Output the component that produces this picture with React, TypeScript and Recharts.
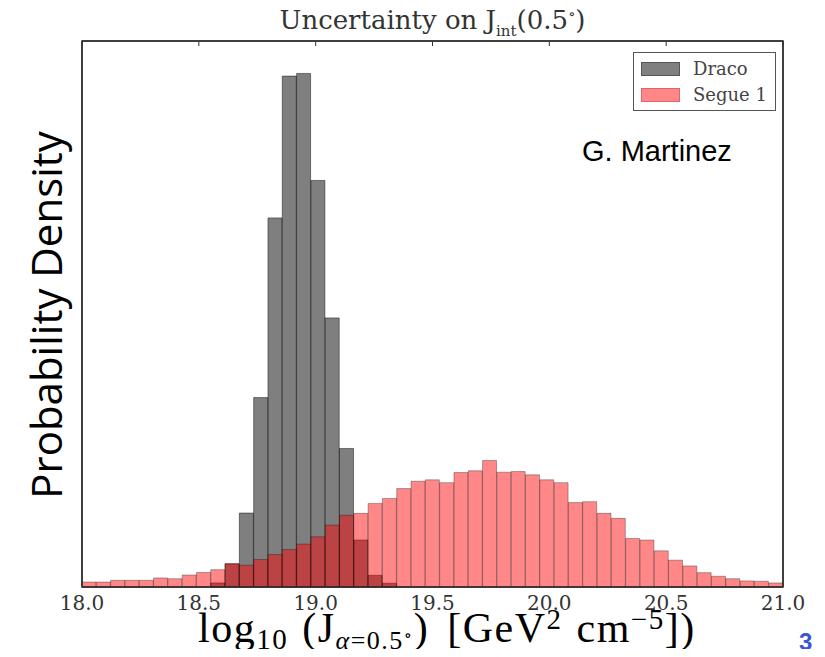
import React from 'react';
import { BarChart, Bar, XAxis, YAxis, ReferenceArea } from 'recharts';

// histogram bin heights (probability density), 49 equal bins from 18.0 to 21.0
const SEGUE_1 = [
  0.032, 0.032, 0.043, 0.043, 0.043, 0.058, 0.053, 0.077, 0.093, 0.111,
  0.150, 0.140, 0.176, 0.208, 0.240, 0.275, 0.322, 0.397, 0.460, 0.472,
  0.536, 0.568, 0.631, 0.678, 0.687, 0.669, 0.734, 0.745, 0.811, 0.736,
  0.740, 0.719, 0.687, 0.669, 0.541, 0.547, 0.472, 0.440, 0.311, 0.301,
  0.232, 0.172, 0.135, 0.092, 0.069, 0.053, 0.039, 0.037, 0.026,
];

const DRACO = [
  null, null, null, null, null, null, null, null, null, 0.026,
  0.148, 0.474, 1.214, 2.366, 3.275, 3.292, 2.606, 1.725, 0.888, 0.301,
  0.075, 0.024, null, null, null, null, null, null, null, null,
  null, null, null, null, null, null, null, null, null, null,
  null, null, null, null, null, null, null, null, null,
];

const X_RANGE = [18.0, 21.0];
const X_TICKS = [18.0, 18.5, 19.0, 19.5, 20.0, 20.5, 21.0];
const Y_RANGE = [0, 3.5];
const SERIES = ['Draco', 'Segue 1'];

const binWidth = (X_RANGE[1] - X_RANGE[0]) / SEGUE_1.length;
const data = SEGUE_1.map((s, i) => ({
  bin: i,
  center: X_RANGE[0] + binWidth * (i + 0.5),
  draco: DRACO[i],
  segue: s,
}));

const FRAME = '#333333';
const serif = '"DejaVu Serif", serif';
const mathSerif = '"Liberation Serif", "DejaVu Serif", serif';

const emptyTick = () => <g />;

const sub = (fs: number, shift = '-0.25em'): React.CSSProperties => ({ fontSize: fs, verticalAlign: shift, lineHeight: 0 });
const sup = (fs: number, shift = '0.45em'): React.CSSProperties => ({ fontSize: fs, verticalAlign: shift, lineHeight: 0 });

const App: React.FC = () => {
  return (
    <div style={{ position: 'relative', width: 825, height: 657, margin: -8, background: '#fff' }}>
      <BarChart
        width={825}
        height={657}
        data={data}
        margin={{ top: 41, right: 41, bottom: 40, left: 81 }}
        barCategoryGap={0}
        barGap={0}
      >
        <XAxis xAxisId="a" dataKey="bin" type="category" hide height={0} />
        <XAxis xAxisId="b" dataKey="bin" type="category" hide height={0} />
        <XAxis
          xAxisId="num"
          dataKey="center"
          type="number"
          domain={X_RANGE}
          ticks={X_TICKS}
          allowDataOverflow
          height={30}
          tickFormatter={(v: number) => v.toFixed(1)}
          tickLine={false}
          axisLine={{ stroke: FRAME, strokeWidth: 1.5 }}
          tick={{ fill: '#333', fontFamily: serif, fontSize: 20 }}
          tickMargin={3}
        />
        <XAxis
          xAxisId="top"
          dataKey="center"
          type="number"
          orientation="top"
          domain={X_RANGE}
          ticks={X_TICKS}
          allowDataOverflow
          height={1}
          mirror
          tick={emptyTick}
          tickSize={5}
          tickLine={{ stroke: FRAME }}
          axisLine={{ stroke: FRAME, strokeWidth: 1.5 }}
        />
        <YAxis
          yAxisId="left"
          domain={Y_RANGE}
          width={1}
          tick={false}
          axisLine={{ stroke: FRAME, strokeWidth: 1.5 }}
        />
        <YAxis
          yAxisId="right"
          orientation="right"
          domain={Y_RANGE}
          width={1}
          tick={false}
          axisLine={{ stroke: FRAME, strokeWidth: 1.5 }}
        />
        <Bar
          xAxisId="a"
          yAxisId="left"
          dataKey="draco"
          name={SERIES[0]}
          fill="#000"
          fillOpacity={0.5}
          stroke="#000"
          strokeOpacity={0.45}
          strokeWidth={1}
          isAnimationActive={false}
        />
        <Bar
          xAxisId="b"
          yAxisId="left"
          dataKey="segue"
          name={SERIES[1]}
          fill="#ff0000"
          fillOpacity={0.47}
          stroke="#000"
          strokeOpacity={0.3}
          strokeWidth={1}
          isAnimationActive={false}
        />
        <ReferenceArea
          xAxisId="num"
          yAxisId="left"
          x1={X_RANGE[0]}
          x2={X_RANGE[1]}
          y1={Y_RANGE[0]}
          y2={Y_RANGE[1]}
          fill="none"
          fillOpacity={0}
          stroke={FRAME}
          strokeWidth={1.5}
          strokeOpacity={1}
        />
      </BarChart>

      {/* title */}
      <div
        style={{
          position: 'absolute', left: 0, width: 865, top: 7, textAlign: 'center', lineHeight: 1,
          fontFamily: serif, fontSize: 26, color: '#333', whiteSpace: 'nowrap',
        }}
      >
        Uncertainty on J<span style={sub(15, '-0.45em')}>int</span>(0.5<span style={sup(15, '0.7em')}>∘</span>)
      </div>

      {/* legend */}
      <div
        style={{
          position: 'absolute', left: 633, top: 52, width: 141, height: 57,
          border: '1.5px solid #555', background: '#fff', fontFamily: serif, fontSize: 18, color: '#444',
        }}
      >
        {SERIES.map((name, i) => (
          <div key={name} style={{ position: 'absolute', left: 7, top: 5 + i * 26, display: 'flex', alignItems: 'center' }}>
            <span
              style={{
                display: 'inline-block', width: 37, height: 12,
                background: i === 0 ? '#808080' : '#ff8787', border: '1px solid ' + (i === 0 ? '#555' : '#d66'),
              }}
            />
            <span style={{ marginLeft: 13 }}>{name}</span>
          </div>
        ))}
      </div>

      {/* author note */}
      <div
        style={{
          position: 'absolute', left: 582, top: 137, fontFamily: '"Liberation Sans", Arial, sans-serif',
          fontSize: 29, color: '#000', lineHeight: 1,
        }}
      >
        G. Martinez
      </div>

      {/* y axis label */}
      <div
        style={{
          position: 'absolute', left: 46, top: 315, transform: 'translate(-50%, -50%) rotate(-90deg)',
          fontFamily: '"Open Sans", sans-serif', fontSize: 42, color: '#000', whiteSpace: 'nowrap', lineHeight: 1,
        }}
      >
        Probability Density
      </div>

      {/* x axis label */}
      <div
        style={{
          position: 'absolute', left: 198, top: 613, lineHeight: 0.75, letterSpacing: 1.5,
          fontFamily: mathSerif, fontSize: 42, color: '#000', whiteSpace: 'nowrap',
        }}
      >
        log<span style={sub(29)}>10</span>
        <span style={{ marginLeft: 14 }}>(J</span>
        <span style={sub(26)}><i>α</i>=0.5<span style={{ fontSize: 17, verticalAlign: '0.5em' }}>∘</span></span>)
        <span style={{ marginLeft: 18 }}>[GeV</span>
        <span style={sup(29)}>2</span>
        <span style={{ marginLeft: 14 }}>cm</span>
        <span style={sup(29)}>−5</span>])
      </div>

      {/* slide number */}
      <div
        style={{
          position: 'absolute', left: 799, top: 630, fontFamily: '"Liberation Sans", Arial, sans-serif',
          fontSize: 24, fontWeight: 'bold', color: '#3a55d8', lineHeight: 1,
        }}
      >
        3
      </div>
    </div>
  );
};

export default App;
